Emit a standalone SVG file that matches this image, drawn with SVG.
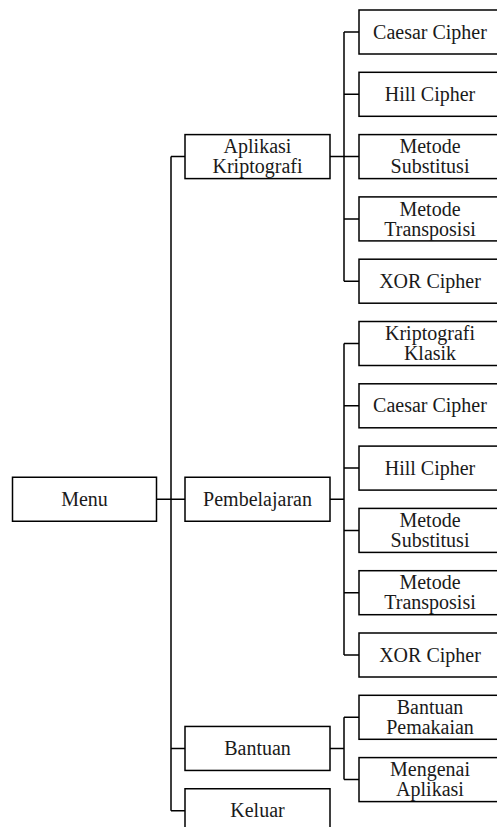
<svg xmlns="http://www.w3.org/2000/svg" width="497" height="827" viewBox="0 0 497 827">
<style>
rect{fill:#fff;stroke:#000;stroke-width:1.5}
text{font-family:'Liberation Serif','Times New Roman',Tinos,'DejaVu Serif','Noto Serif',serif;font-size:20px;fill:#1a1a1a;text-anchor:middle}
.c path{fill:none;stroke:#000;stroke-width:1.5}
</style>
<rect x="0" y="0" width="497" height="827" style="stroke:none"/>
<g class="c" id="connectors">
<path d="M171 156.6V810.75M171 156.6H185M171 499.25H185M171 748.45H185M171 810.75H185M156.5 499.25H185"/>
<path d="M330 156.6H344M344 32V281.2M344 32H359M344 94.3H359M344 156.6H359M344 218.9H359M344 281.2H359"/>
<path d="M330 499.25H344M344 343.5V655M344 343.5H359M344 405.8H359M344 468.1H359M344 530.4H359M344 592.7H359M344 655H359"/>
<path d="M330 748.45H344M344 717.3V779.6M344 717.3H359M344 779.6H359"/>
</g>
<g id="menu"><rect x="12.5" y="477.25" width="144" height="44"/><text x="84.5" y="505.9">Menu</text></g>
<g id="aplikasi"><rect x="185" y="134.6" width="145" height="44"/><text x="257.5" y="153.2">Aplikasi</text><text x="257.5" y="173.2">Kriptografi</text></g>
<g id="pembelajaran"><rect x="185" y="477.25" width="145" height="44"/><text x="257.5" y="505.9">Pembelajaran</text></g>
<g id="bantuan"><rect x="185" y="726.45" width="145" height="44"/><text x="257.5" y="755.1">Bantuan</text></g>
<g id="keluar"><rect x="185" y="788.75" width="145" height="44"/><text x="257.5" y="817.4">Keluar</text></g>
<g id="a-caesar"><rect x="359" y="10" width="144" height="44"/><text x="430" y="38.6">Caesar Cipher</text></g>
<g id="a-hill"><rect x="359" y="72.3" width="144" height="44"/><text x="430" y="100.9">Hill Cipher</text></g>
<g id="a-subst"><rect x="359" y="134.6" width="144" height="44"/><text x="430" y="153.2">Metode</text><text x="430" y="173.2">Substitusi</text></g>
<g id="a-trans"><rect x="359" y="196.9" width="144" height="44"/><text x="430" y="215.5">Metode</text><text x="430" y="235.5">Transposisi</text></g>
<g id="a-xor"><rect x="359" y="259.2" width="144" height="44"/><text x="430" y="287.8">XOR Cipher</text></g>
<g id="p-klasik"><rect x="359" y="321.5" width="144" height="44"/><text x="430" y="340.1">Kriptografi</text><text x="430" y="360.1">Klasik</text></g>
<g id="p-caesar"><rect x="359" y="383.8" width="144" height="44"/><text x="430" y="412.4">Caesar Cipher</text></g>
<g id="p-hill"><rect x="359" y="446.1" width="144" height="44"/><text x="430" y="474.7">Hill Cipher</text></g>
<g id="p-subst"><rect x="359" y="508.4" width="144" height="44"/><text x="430" y="527">Metode</text><text x="430" y="547">Substitusi</text></g>
<g id="p-trans"><rect x="359" y="570.7" width="144" height="44"/><text x="430" y="589.3">Metode</text><text x="430" y="609.3">Transposisi</text></g>
<g id="p-xor"><rect x="359" y="633" width="144" height="44"/><text x="430" y="661.6">XOR Cipher</text></g>
<g id="b-pemakaian"><rect x="359" y="695.3" width="144" height="44"/><text x="430" y="713.9">Bantuan</text><text x="430" y="733.9">Pemakaian</text></g>
<g id="b-mengenai"><rect x="359" y="757.6" width="144" height="44"/><text x="430" y="776.2">Mengenai</text><text x="430" y="796.2">Aplikasi</text></g>
</svg>
